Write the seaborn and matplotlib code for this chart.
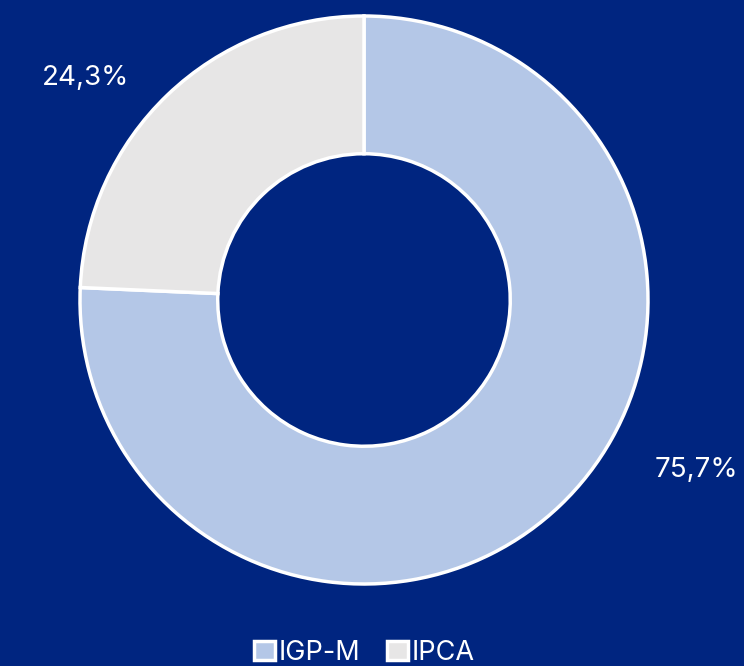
#!/usr/bin/env python3
"""Donut chart: share of IGP-M vs IPCA indexed contracts."""

import matplotlib.pyplot as plt
import seaborn as sns

categories = ["IGP-M", "IPCA"]
shares = [75.7, 24.3]
share_labels = ["75,7%", "24,3%"]

BACKGROUND = "#002580"
COLORS = sns.color_palette(["#B4C7E7", "#E7E6E6"])


def main() -> None:
    sns.set_theme(style="white")
    plt.rcParams["font.family"] = ["Inter", "DejaVu Sans"]

    fig = plt.figure(figsize=(7.44, 6.66), dpi=100, facecolor=BACKGROUND)
    cx, cy, radius = 364, 366, 284
    ax = fig.add_axes([(cx - radius) / 744, (cy - radius) / 666, 2 * radius / 744, 2 * radius / 666])
    ax.set_facecolor(BACKGROUND)

    wedges, _ = ax.pie(
        shares,
        colors=COLORS,
        startangle=90,
        counterclock=False,
        radius=1.0,
        wedgeprops=dict(width=0.485, edgecolor="white", linewidth=2.5),
    )
    ax.set_xlim(-1, 1)
    ax.set_ylim(-1, 1)
    ax.set_aspect("equal")
    ax.axis("off")

    # label placement follows the reference layout
    label_pos = [(1.17, -0.60), (-0.98, 0.78)]
    for (x, y), text in zip(label_pos, share_labels):
        ax.text(x, y, text, ha="center", va="center", color="white", fontsize=20, clip_on=False)

    fig.legend(
        wedges,
        categories,
        loc="center",
        bbox_to_anchor=(0.49, 1 - 653 / 666),
        ncol=2,
        frameon=False,
        fontsize=19.5,
        labelcolor="white",
        handlelength=0.75,
        handleheight=0.75,
        handletextpad=0.15,
        columnspacing=1.0,
    )

    fig.savefig("out.png", facecolor=BACKGROUND)
    plt.close(fig)


if __name__ == "__main__":
    main()
